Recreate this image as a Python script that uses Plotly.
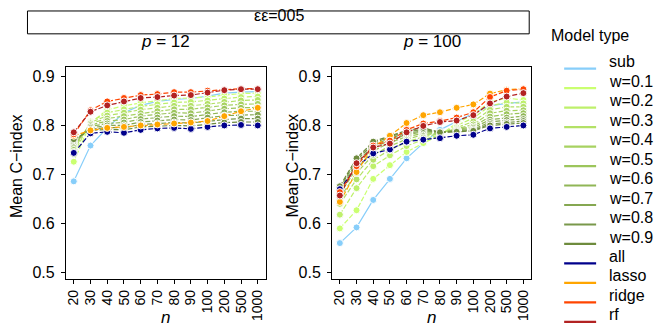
import plotly.graph_objects as go

W, H = 664, 332

N_LABELS = ["20", "30", "40", "50", "60", "70", "80", "90", "100", "200", "500", "1000"]
MODELS = ["sub", "w=0.1", "w=0.2", "w=0.3", "w=0.4", "w=0.5", "w=0.6", "w=0.7",
          "w=0.8", "w=0.9", "all", "lasso", "ridge", "rf"]
COLORS = ["#87CEFA", "#CAFF70", "#BEF06B", "#B3E166", "#A7D261", "#9CC55B",
          "#90B656", "#85A751", "#79984B", "#6E8B3D", "#00008B", "#FFA500",
          "#FF4500", "#B22222"]

# p = 12
p12 = {
    "sub":   [0.686, 0.759, 0.795, 0.826, 0.841, 0.849, 0.853, 0.855, 0.860, 0.866, 0.868, 0.869],
    "w=0.1": [0.726, 0.805, 0.832, 0.840, 0.846, 0.850, 0.855, 0.856, 0.858, 0.862, 0.865, 0.866],
    "w=0.2": [0.742, 0.808, 0.826, 0.833, 0.839, 0.843, 0.847, 0.848, 0.851, 0.855, 0.858, 0.859],
    "w=0.3": [0.750, 0.806, 0.820, 0.826, 0.832, 0.836, 0.840, 0.840, 0.844, 0.848, 0.851, 0.852],
    "w=0.4": [0.756, 0.804, 0.814, 0.819, 0.825, 0.829, 0.833, 0.833, 0.837, 0.841, 0.843, 0.844],
    "w=0.5": [0.760, 0.801, 0.809, 0.812, 0.819, 0.822, 0.826, 0.825, 0.830, 0.834, 0.836, 0.837],
    "w=0.6": [0.764, 0.798, 0.804, 0.806, 0.813, 0.816, 0.819, 0.818, 0.823, 0.827, 0.829, 0.829],
    "w=0.7": [0.767, 0.795, 0.800, 0.800, 0.807, 0.810, 0.812, 0.811, 0.816, 0.820, 0.821, 0.822],
    "w=0.8": [0.770, 0.792, 0.796, 0.795, 0.802, 0.804, 0.806, 0.805, 0.809, 0.812, 0.814, 0.814],
    "w=0.9": [0.772, 0.790, 0.792, 0.791, 0.797, 0.799, 0.800, 0.799, 0.803, 0.806, 0.807, 0.807],
    "all":   [0.744, 0.784, 0.787, 0.785, 0.791, 0.794, 0.795, 0.793, 0.797, 0.800, 0.801, 0.800],
    "lasso": [0.779, 0.790, 0.795, 0.797, 0.800, 0.802, 0.804, 0.806, 0.809, 0.819, 0.829, 0.836],
    "ridge": [0.782, 0.831, 0.849, 0.856, 0.862, 0.864, 0.868, 0.868, 0.871, 0.873, 0.875, 0.875],
    "rf":    [0.786, 0.828, 0.841, 0.849, 0.856, 0.858, 0.861, 0.862, 0.867, 0.872, 0.874, 0.874],
}

# p = 100
p100 = {
    "sub":   [0.560, 0.592, 0.648, 0.691, 0.733, 0.764, 0.791, 0.808, 0.825, 0.840, 0.845, 0.848],
    "w=0.1": [0.590, 0.627, 0.691, 0.719, 0.746, 0.764, 0.780, 0.805, 0.822, 0.848, 0.856, 0.852],
    "w=0.2": [0.618, 0.672, 0.717, 0.739, 0.758, 0.771, 0.781, 0.800, 0.815, 0.840, 0.847, 0.845],
    "w=0.3": [0.640, 0.690, 0.730, 0.750, 0.766, 0.777, 0.783, 0.796, 0.808, 0.832, 0.838, 0.838],
    "w=0.4": [0.652, 0.703, 0.740, 0.758, 0.772, 0.781, 0.784, 0.793, 0.802, 0.825, 0.830, 0.831],
    "w=0.5": [0.660, 0.712, 0.748, 0.765, 0.777, 0.784, 0.785, 0.791, 0.798, 0.818, 0.823, 0.825],
    "w=0.6": [0.665, 0.719, 0.754, 0.770, 0.781, 0.787, 0.786, 0.790, 0.795, 0.812, 0.816, 0.819],
    "w=0.7": [0.669, 0.724, 0.759, 0.774, 0.784, 0.789, 0.786, 0.789, 0.792, 0.807, 0.811, 0.813],
    "w=0.8": [0.673, 0.729, 0.763, 0.777, 0.787, 0.792, 0.786, 0.788, 0.790, 0.803, 0.806, 0.809],
    "w=0.9": [0.676, 0.733, 0.767, 0.779, 0.790, 0.795, 0.786, 0.787, 0.789, 0.800, 0.803, 0.805],
    "all":   [0.670, 0.715, 0.743, 0.751, 0.767, 0.771, 0.774, 0.779, 0.781, 0.794, 0.797, 0.800],
    "lasso": [0.644, 0.705, 0.756, 0.779, 0.805, 0.821, 0.827, 0.836, 0.843, 0.865, 0.873, 0.875],
    "ridge": [0.664, 0.717, 0.759, 0.769, 0.791, 0.804, 0.809, 0.816, 0.827, 0.858, 0.871, 0.874],
    "rf":    [0.657, 0.723, 0.755, 0.763, 0.786, 0.799, 0.807, 0.810, 0.821, 0.845, 0.859, 0.866],
}

FONT = "Liberation Sans, Arial, sans-serif"

# panel geometry in pixels
LEFT_X = (57, 257)
RIGHT_X = (323.5, 523)
PANEL_Y = (59, 273)


def px_x(v):
    return v / W


def px_y(v):
    return 1 - v / H


fig = go.Figure()

# ggplot style: all lines first, then all points on top
panels = [(p12, "x", "y"), (p100, "x2", "y2")]
for data, xa, ya in panels:
    for name, color in zip(MODELS, COLORS):
        fig.add_trace(go.Scatter(
            x=N_LABELS, y=data[name], xaxis=xa, yaxis=ya, mode="lines",
            line=dict(color=color, width=1.2, dash="solid" if name == "sub" else "5px,2px"),
            showlegend=False, hoverinfo="skip",
        ))
    for name, color in zip(MODELS, COLORS):
        fig.add_trace(go.Scatter(
            x=N_LABELS, y=data[name], xaxis=xa, yaxis=ya, mode="markers",
            marker=dict(color=color, size=7, line=dict(color="white", width=1)),
            showlegend=False, name=name,
        ))

axis_common = dict(
    type="category", range=[-0.47, 11.47], showline=True, mirror=True,
    tickmode="array", tickvals=N_LABELS, ticktext=N_LABELS,
    linecolor="black", linewidth=1, ticks="outside", ticklen=4, tickcolor="black",
    tickangle=-90, showgrid=False, zeroline=False,
    tickfont=dict(family=FONT, size=14, color="black"),
)
yaxis_common = dict(
    range=[0.486, 0.920], tickvals=[0.5, 0.6, 0.7, 0.8, 0.9],
    ticktext=["0.5", "0.6", "0.7", "0.8", "0.9"],
    showline=True, mirror=True, linecolor="black", linewidth=1,
    ticks="outside", ticklen=4, tickcolor="black", showgrid=False, zeroline=False,
    ticklabelstandoff=3,
    tickfont=dict(family=FONT, size=16, color="black"),
    domain=[px_y(PANEL_Y[1]), px_y(PANEL_Y[0])],
)

fig.update_layout(
    width=W, height=H,
    margin=dict(l=0, r=0, t=0, b=0),
    paper_bgcolor="white", plot_bgcolor="white",
    font=dict(family=FONT, color="black"),
    xaxis=dict(axis_common, domain=[px_x(LEFT_X[0]), px_x(LEFT_X[1])], anchor="y"),
    yaxis=dict(yaxis_common, anchor="x"),
    xaxis2=dict(axis_common, domain=[px_x(RIGHT_X[0]), px_x(RIGHT_X[1])], anchor="y2"),
    yaxis2=dict(yaxis_common, anchor="x2"),
    showlegend=False,
)

# strip box across the top
fig.add_shape(type="rect", xref="paper", yref="paper",
              x0=px_x(18.5), x1=px_x(521), y0=px_y(26), y1=px_y(3),
              line=dict(color="black", width=1), fillcolor="white", layer="below")

# annotation boxes render a few px low, so centres are nudged up
DY = 7
annotations = [
    dict(text="εε=005", x=270, y=15, size=16),
    dict(text="<i>p</i> = 12", x=sum(LEFT_X) / 2, y=41, size=17),
    dict(text="<i>p</i> = 100", x=sum(RIGHT_X) / 2, y=41, size=17),
    dict(text="<i>n</i>", x=sum(LEFT_X) / 2, y=318, size=17),
    dict(text="<i>n</i>", x=sum(RIGHT_X) / 2, y=318, size=17),
    dict(text="Mean C\u2212index", x=7, y=166, size=16, angle=-90),
    dict(text="Mean C\u2212index", x=283, y=166, size=16, angle=-90),
    dict(text="Model type", x=541, y=35, size=16, xanchor="left"),
]

# hand-drawn legend: solid key lines with labels
for i, (name, color) in enumerate(zip(MODELS, COLORS)):
    ky = 61 + i * 19.6
    fig.add_shape(type="line", xref="paper", yref="paper",
                  x0=px_x(556), x1=px_x(588), y0=px_y(ky), y1=px_y(ky),
                  line=dict(color=color, width=2.2))
    annotations.append(dict(text=name, x=599, y=ky, size=16, xanchor="left"))

for a in annotations:
    fig.add_annotation(
        text=a["text"], x=px_x(a["x"]), y=px_y(a["y"] - DY), xref="paper", yref="paper",
        showarrow=False, textangle=a.get("angle", 0),
        xanchor=a.get("xanchor", "center"), yanchor="middle",
        font=dict(family=FONT, size=a["size"], color="black"),
    )

fig.write_html("out.html")
